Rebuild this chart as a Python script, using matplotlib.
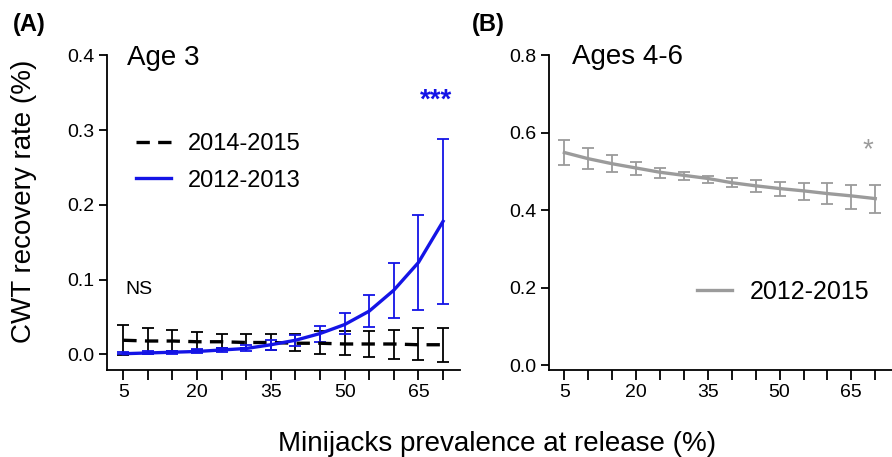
import numpy as np
import matplotlib
matplotlib.use("Agg")
import matplotlib.pyplot as plt

plt.rcParams['font.family'] = ['Liberation Sans', 'DejaVu Sans']

# minijack prevalence at release (%)
x = [5, 10, 15, 20, 25, 30, 35, 40, 45, 50, 55, 60, 65, 70]

# panel A, age 3
blue_mid = [0.001, 0.002, 0.003, 0.004, 0.006, 0.008, 0.013, 0.019, 0.028, 0.040, 0.058, 0.086, 0.123, 0.178]
blue_lo = [0.000, 0.001, 0.001, 0.002, 0.003, 0.004, 0.006, 0.011, 0.017, 0.028, 0.037, 0.049, 0.060, 0.068]
blue_hi = [0.003, 0.004, 0.005, 0.007, 0.009, 0.013, 0.019, 0.026, 0.038, 0.055, 0.080, 0.122, 0.187, 0.288]

black_mid = [0.019, 0.018, 0.018, 0.017, 0.017, 0.016, 0.016, 0.015, 0.015, 0.014, 0.014, 0.014, 0.013, 0.013]
black_lo = [-0.001, 0.001, 0.004, 0.006, 0.008, 0.009, 0.006, 0.004, 0.001, -0.001, -0.003, -0.006, -0.008, -0.010]
black_hi = [0.040, 0.036, 0.033, 0.030, 0.027, 0.027, 0.027, 0.028, 0.031, 0.031, 0.032, 0.033, 0.035, 0.036]

# panel B, ages 4-6
gray_mid = [0.549, 0.533, 0.520, 0.509, 0.498, 0.490, 0.482, 0.471, 0.463, 0.456, 0.450, 0.443, 0.437, 0.430]
gray_lo = [0.516, 0.506, 0.499, 0.490, 0.484, 0.477, 0.469, 0.460, 0.447, 0.436, 0.426, 0.415, 0.403, 0.394]
gray_hi = [0.582, 0.561, 0.542, 0.525, 0.510, 0.499, 0.488, 0.483, 0.477, 0.473, 0.471, 0.471, 0.466, 0.465]

blue = '#1414e6'
gray = '#9b9b9b'

fig = plt.figure(figsize=(8.92, 4.57), dpi=100)
axA = fig.add_axes([0.120, 0.190, 0.396, 0.689])
axB = fig.add_axes([0.615, 0.190, 0.385, 0.689])


def errs(mid, lo, hi):
    mid = np.array(mid)
    return [mid - np.array(lo), np.array(hi) - mid]


def style(ax, ylim, yticks):
    for s in ['top', 'right']:
        ax.spines[s].set_visible(False)
    for s in ['left', 'bottom']:
        ax.spines[s].set_linewidth(1.3)
    ax.set_xlim(1.7, 73.5)
    ax.set_ylim(*ylim)
    ax.set_xticks(x)
    ax.set_xticklabels([str(v) if v in (5, 20, 35, 50, 65) else '' for v in x])
    ax.set_yticks(yticks)
    ax.set_yticklabels(['%.1f' % v for v in yticks])
    ax.tick_params(axis='x', length=7, width=1.3, labelsize=14, pad=3)
    ax.tick_params(axis='y', length=6, width=1.3, labelsize=14, pad=3)


# panel A
axA.errorbar(x, black_mid, yerr=errs(black_mid, black_lo, black_hi), fmt='none',
             ecolor='black', elinewidth=1.3, capsize=4, capthick=1.3)
axA.errorbar(x, blue_mid, yerr=errs(blue_mid, blue_lo, blue_hi), fmt='none',
             ecolor=blue, elinewidth=1.3, capsize=4, capthick=1.3)
axA.plot(x, black_mid, color='black', lw=2.4, ls=(0, (4, 2.5)), label='2014-2015')
axA.plot(x, blue_mid, color=blue, lw=2.4, label='2012-2013')
style(axA, (-0.021, 0.4), [0.0, 0.1, 0.2, 0.3, 0.4])
axA.text(5.8, 0.397, 'Age 3', fontsize=20, va='center')
axA.text(5.5, 0.087, 'NS', fontsize=14, va='center')
axA.text(68.5, 0.34, '***', fontsize=20, color=blue, ha='center', va='center', fontweight='bold')
axA.legend(loc='upper left', bbox_to_anchor=(0.082, 0.752), frameon=False, fontsize=17,
           handlelength=1.5, handletextpad=0.7, labelspacing=0.6,
           borderpad=0, borderaxespad=0)

# panel B
axB.errorbar(x, gray_mid, yerr=errs(gray_mid, gray_lo, gray_hi), fmt='none',
             ecolor=gray, elinewidth=1.3, capsize=4, capthick=1.3)
axB.plot(x, gray_mid, color=gray, lw=2.4, label='2012-2015')
style(axB, (-0.013, 0.8), [0.0, 0.2, 0.4, 0.6, 0.8])
axB.text(6.7, 0.795, 'Ages 4-6', fontsize=20, va='center')
axB.text(68.5, 0.555, '*', fontsize=20, color=gray, ha='center', va='center')
axB.legend(loc='center left', bbox_to_anchor=(0.431, 0.248), frameon=False, fontsize=18,
           handlelength=1.4, handletextpad=0.72, borderpad=0, borderaxespad=0)

fig.text(0.014, 0.946, '(A)', fontsize=17, fontweight='bold', va='center')
fig.text(0.529, 0.946, '(B)', fontsize=17, fontweight='bold', va='center')
fig.text(0.027, 0.56, 'CWT recovery rate (%)', fontsize=20, rotation=90, va='center', ha='center')
fig.text(0.557, 0.013, 'Minijacks prevalence at release (%)', fontsize=20, ha='center', va='baseline')

fig.savefig('out.png', dpi=100)
